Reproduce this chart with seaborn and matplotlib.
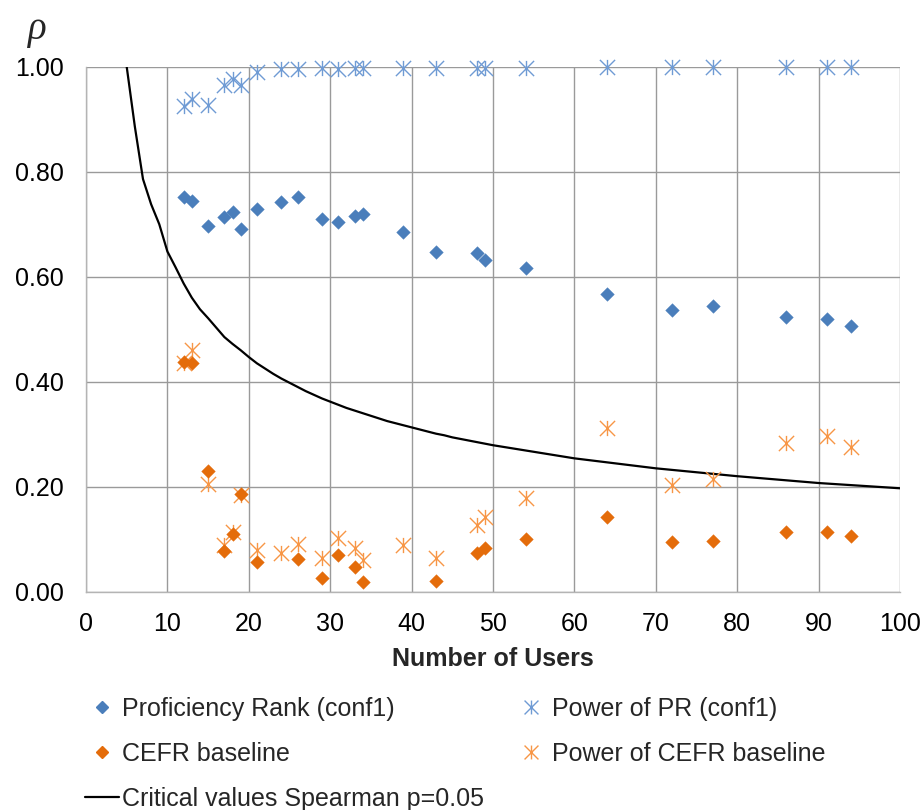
import numpy as np
import pandas as pd
import matplotlib
matplotlib.use("Agg")
import matplotlib.pyplot as plt
import seaborn as sns
from matplotlib.path import Path
from matplotlib.lines import Line2D
from matplotlib.ticker import FormatStrFormatter, FixedLocator

# ---------------- data ----------------
users = [12, 13, 15, 17, 18, 19, 21, 24, 26, 29, 31, 33, 34, 39, 43, 48, 49, 54, 64, 72, 77, 86, 91, 94]
pr_rho = [0.752, 0.745, 0.697, 0.714, 0.723, 0.690, 0.729, 0.743, 0.752, 0.710, 0.704, 0.716, 0.720,
          0.685, 0.648, 0.646, 0.631, 0.617, 0.568, 0.537, 0.544, 0.523, 0.519, 0.507]
pr_power = [0.926, 0.938, 0.928, 0.965, 0.976, 0.966, 0.989, 0.996, 0.996, 0.997, 0.996, 0.997, 0.998,
            0.998, 0.998, 0.998, 0.998, 0.998, 0.999, 0.999, 0.999, 1.000, 1.000, 1.000]
cefr_rho = [0.438, 0.436, 0.229, 0.078, 0.110, 0.186, 0.056, np.nan, 0.062, 0.027, 0.070, 0.048, 0.018,
            np.nan, 0.020, 0.073, 0.084, 0.100, 0.142, 0.095, 0.097, 0.114, 0.114, 0.107]
cefr_power = [0.435, 0.460, 0.206, 0.089, 0.114, 0.184, 0.079, 0.073, 0.090, 0.065, 0.103, 0.083, 0.060,
              0.089, 0.064, 0.127, 0.143, 0.179, 0.312, 0.204, 0.214, 0.283, 0.296, 0.276]
crit_n = [5, 6, 7, 8, 9, 10, 11, 12, 13, 14, 15, 16, 17, 18, 19, 20, 21, 22, 23, 24, 25, 26, 27, 28, 29, 30,
          31, 32, 33, 34, 35, 36, 37, 38, 39, 40, 41, 42, 43, 44, 45, 46, 47, 48, 49, 50, 60, 70, 80, 90, 100]
crit_rho = [1.000, 0.886, 0.786, 0.738, 0.700, 0.648, 0.618, 0.587, 0.560, 0.538, 0.521, 0.503, 0.485,
            0.472, 0.460, 0.447, 0.435, 0.425, 0.415, 0.406, 0.398, 0.390, 0.382, 0.375, 0.368, 0.362,
            0.356, 0.350, 0.345, 0.340, 0.335, 0.330, 0.325, 0.321, 0.317, 0.313, 0.309, 0.305, 0.301,
            0.298, 0.294, 0.291, 0.288, 0.285, 0.282, 0.279, 0.254, 0.235, 0.220, 0.207, 0.197]

x_ticks = [0, 10, 20, 30, 40, 50, 60, 70, 80, 90, 100]
y_ticks = [0.0, 0.2, 0.4, 0.6, 0.8, 1.0]

labels = ["Proficiency Rank (conf1)", "Power of PR (conf1)", "CEFR baseline",
          "Power of CEFR baseline", "Critical values Spearman p=0.05"]

# ---------------- style ----------------
sns.set_style("white")
plt.rcParams["font.family"] = ["Liberation Sans", "DejaVu Sans"]

c_pr = "#4a7ebb"
c_pr_pow = "#6f9bd4"
c_cefr = "#e46c0a"
c_cefr_pow = "#f79646"
grid_c = "#9a9a9a"
axis_c = "#b4b4b4"
fs = 18

W, H = 924, 810
fig = plt.figure(figsize=(W / 100, H / 100), dpi=100)
x0, x1, y_top, y_bot = 86, 900, 66.7, 591.7
ax = fig.add_axes([x0 / W, 1 - y_bot / H, (x1 - x0) / W, (y_bot - y_top) / H])

star = Path([(0, -1), (0, 1), (-1, -1), (1, 1), (-1, 1), (1, -1)],
            [Path.MOVETO, Path.LINETO, Path.MOVETO, Path.LINETO, Path.MOVETO, Path.LINETO])

df = pd.DataFrame({"users": users, "pr": pr_rho, "pr_pow": pr_power,
                   "cefr": cefr_rho, "cefr_pow": cefr_power})
crit = pd.DataFrame({"n": crit_n, "rho": crit_rho})

sns.lineplot(data=crit, x="n", y="rho", color="black", linewidth=1.6, ax=ax,
             estimator=None, sort=False, zorder=3)

sns.scatterplot(data=df, x="users", y="pr_pow", marker=star, s=120, color=c_pr_pow,
                edgecolor=c_pr_pow, linewidth=1.0, ax=ax, clip_on=False, zorder=4)
sns.scatterplot(data=df, x="users", y="pr", marker="D", s=48, color=c_pr,
                edgecolor=c_pr, linewidth=0.3, ax=ax, clip_on=False, zorder=4)
sns.scatterplot(data=df, x="users", y="cefr_pow", marker=star, s=120, color=c_cefr_pow,
                edgecolor=c_cefr_pow, linewidth=1.0, ax=ax, clip_on=False, zorder=4)
sns.scatterplot(data=df, x="users", y="cefr", marker="D", s=48, color=c_cefr,
                edgecolor=c_cefr, linewidth=0.3, ax=ax, clip_on=False, zorder=5)

ax.set_xlim(0, 100)
ax.set_ylim(0, 1)
ax.xaxis.set_major_locator(FixedLocator(x_ticks))
ax.yaxis.set_major_locator(FixedLocator(y_ticks))
ax.yaxis.set_major_formatter(FormatStrFormatter("%.2f"))
ax.grid(True, color=grid_c, linewidth=1.0)
ax.set_axisbelow(True)
for side in ["top", "right"]:
    ax.spines[side].set_visible(False)
for side in ["left", "bottom"]:
    ax.spines[side].set_color(axis_c)
    ax.spines[side].set_linewidth(1.0)

ax.tick_params(axis="x", length=5, width=1, color=axis_c, pad=9.5, labelsize=fs, labelcolor="black")
ax.tick_params(axis="y", length=5, width=1, color=axis_c, pad=11, labelsize=fs, labelcolor="black")
ax.set_xlabel("Number of Users", fontsize=fs, fontweight="bold", labelpad=8)
ax.set_ylabel("")

fig.text(37 / W, 1 - 29 / H, "ρ", fontsize=28, family="Liberation Serif", style="italic",
         ha="center", va="center")

h_pr = Line2D([], [], marker="D", linestyle="none", color=c_pr, markersize=6)
h_cefr = Line2D([], [], marker="D", linestyle="none", color=c_cefr, markersize=6)
h_pr_pow = Line2D([], [], marker=star, linestyle="none", color=c_pr_pow, markersize=10,
                  markeredgewidth=1.0)
h_cefr_pow = Line2D([], [], marker=star, linestyle="none", color=c_cefr_pow, markersize=10,
                    markeredgewidth=1.0)
h_crit = Line2D([], [], color="black", linewidth=1.6)

fig.legend([h_pr, h_cefr, h_crit, h_pr_pow, h_cefr_pow],
           [labels[0], labels[2], labels[4], labels[1], labels[3]],
           ncol=2, loc="upper left", bbox_to_anchor=(85 / W, 1 - 697 / H),
           frameon=False, fontsize=fs, handlelength=1.35, handletextpad=0.15,
           columnspacing=1.2, labelspacing=0.84, borderpad=0, borderaxespad=0)

fig.savefig("out.png", dpi=100)
